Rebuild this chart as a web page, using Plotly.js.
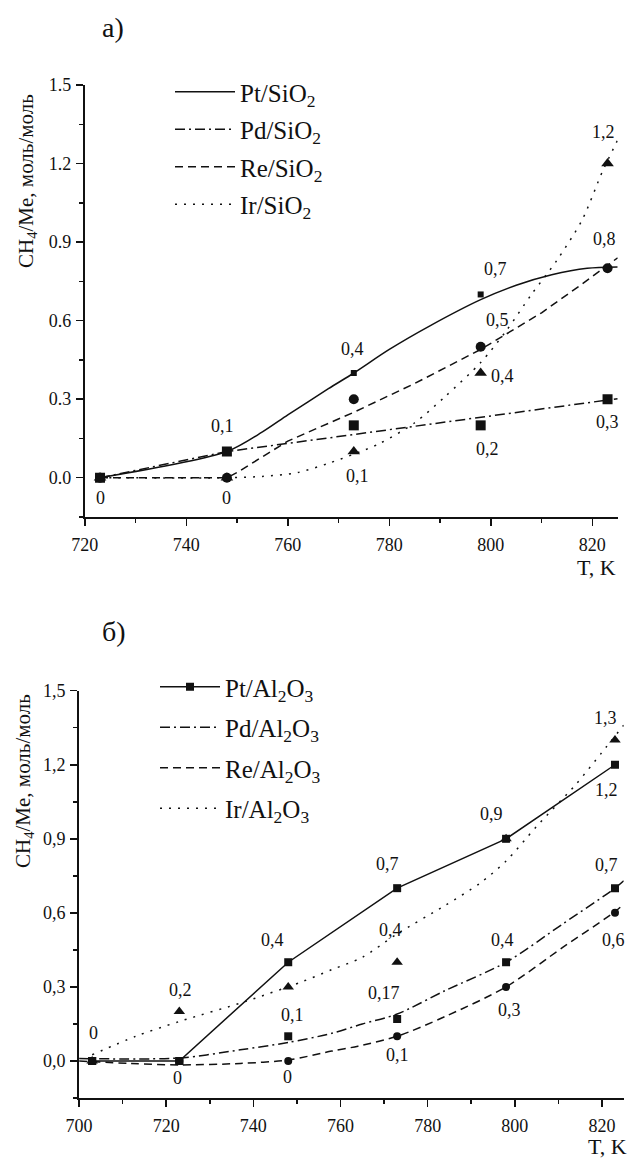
<!DOCTYPE html>
<html>
<head>
<meta charset="utf-8">
<script src="https://cdn.plot.ly/plotly-3.0.1.min.js"></script>
<style>html,body{margin:0;padding:0;background:#fff;}#chart{width:633px;height:1162px;}</style>
</head>
<body>
<div id="chart"></div>
<script>
// ---------- DATA: panel a) SiO2 ----------
const tempSi = [723, 748, 773, 798, 823];
const ptSi = [0, 0.1, 0.4, 0.7, 0.8];
const pdSi = [0, 0.1, 0.2, 0.2, 0.3];
const reSi = [0, 0, 0.3, 0.5, 0.8];
const irSi = [0, 0, 0.1, 0.4, 1.2];
// fitted curves as drawn in the figure
const ptSiFitT = [723, 748, 755, 760, 768, 773, 780, 788, 798, 805, 812, 819, 825];
const ptSiFitV = [0, 0.1, 0.175, 0.24, 0.34, 0.40, 0.49, 0.58, 0.68, 0.735, 0.775, 0.80, 0.805];
const pdSiFitT = [723, 748, 773, 798, 825];
const pdSiFitV = [0, 0.1, 0.165, 0.23, 0.302];
const reSiFitT = [723, 748, 750, 760, 773, 785, 798, 810, 818, 825];
const reSiFitV = [0, 0, 0.02, 0.14, 0.25, 0.36, 0.49, 0.63, 0.74, 0.84];
const irSiFitT = [723, 748, 755, 762, 768, 773, 778, 785, 791, 798, 803, 808, 813, 818, 822, 825];
const irSiFitV = [0, 0, 0.005, 0.02, 0.055, 0.09, 0.13, 0.21, 0.31, 0.44, 0.56, 0.70, 0.83, 0.985, 1.17, 1.29];
// point labels
const ptSiLabels = ['', '0,1', '0,4', '0,7', '0,8'];
const pdSiLabels = ['', '', '', '0,2', '0,3'];
const reSiLabels = ['0', '0', '', '0,5', ''];
const irSiLabels = ['', '', '0,1', '0,4', '1,2'];

// ---------- DATA: panel б) Al2O3 ----------
const tempAl = [703, 723, 748, 773, 798, 823];
const ptAl = [0, 0, 0.4, 0.7, 0.9, 1.2];
const pdAl = [0, 0, 0.1, 0.17, 0.4, 0.7];
const reAl = [0, 0, 0, 0.1, 0.3, 0.6];
const irAl = [0, 0.2, 0.3, 0.4, 0.9, 1.3];
const pdAlFitT = [700, 723, 737, 748, 758, 765, 773, 784, 798, 811, 823, 825];
const pdAlFitV = [0.01, 0.012, 0.045, 0.075, 0.112, 0.15, 0.19, 0.285, 0.40, 0.555, 0.70, 0.73];
const reAlFitT = [700, 712, 723, 737, 748, 758, 764, 773, 784, 798, 811, 823, 825];
const reAlFitV = [0, -0.01, -0.016, -0.01, 0.004, 0.04, 0.06, 0.1, 0.18, 0.30, 0.46, 0.605, 0.635];
const irAlFitT = [703, 713, 723, 738, 751, 758, 765, 773, 784, 792, 798, 805, 814, 820, 825];
const irAlFitV = [0.025, 0.1, 0.16, 0.24, 0.32, 0.37, 0.42, 0.515, 0.63, 0.72, 0.81, 0.95, 1.12, 1.25, 1.36];
const ptAlLabels = ['', '0', '0,4', '0,7', '0,9', '1,2'];
const pdAlLabels = ['', '', '0,1', '0,17', '0,4', '0,7'];
const reAlLabels = ['', '', '0', '0,1', '0,3', '0,6'];
const irAlLabels = ['0', '0,2', '', '0,4', '', '1,3'];

// ---------- tick labels & names ----------
const yTickVals = [0, 0.3, 0.6, 0.9, 1.2, 1.5];
const yTickTextSi = ['0.0', '0.3', '0.6', '0.9', '1.2', '1.5'];
const yTickTextAl = ['0,0', '0,3', '0,6', '0,9', '1,2', '1,5'];
const namesSi = ['Pt/SiO<sub>2</sub>', 'Pd/SiO<sub>2</sub>', 'Re/SiO<sub>2</sub>', 'Ir/SiO<sub>2</sub>'];
const namesAl = ['Pt/Al<sub>2</sub>O<sub>3</sub>', 'Pd/Al<sub>2</sub>O<sub>3</sub>', 'Re/Al<sub>2</sub>O<sub>3</sub>', 'Ir/Al<sub>2</sub>O<sub>3</sub>'];

// ---------- styles ----------
const FONT = '"Liberation Serif", "Times New Roman", serif';
const INK = '#111';
const DASH = '8px,5px';
const DOT = '2px,7px';
const DASHDOT = '10px,4px,2px,4px';

// label offsets (px) [dx, dy]
const offPtSi = [null, [-4, 26], [-1, 24], [15, 25], [-3, 29]];
const offPdSi = [null, null, null, [7, -24], [0, -23]];
const offReSi = [[0, -20], [0, -20], null, [17, 27], null];
const offIrSi = [null, null, [4, -24], [22, -3], [-4, 32]];
const offPtAl = [null, [-2, -17], [-16, 22], [-10, 24], [-15, 25], [-8, -25]];
const offPdAl = [null, null, [4, 21], [-13, 26], [-4, 22], [-8, 23]];
const offReAl = [null, null, [-1, -16], [0, -19], [3, -23], [-1, -27]];
const offIrAl = [[1, 28], [1, 22], null, [-7, 32], null, [-9, 22]];

function fitTrace(xs, ys, name, dash, shape, xa, ya, leg) {
  return {x: xs, y: ys, name: name, legendgroup: name, type: 'scatter', mode: 'lines', xaxis: xa, yaxis: ya,
    line: {color: INK, width: 1.5, dash: dash, shape: shape, smoothing: 0.8}, legend: leg,
    showlegend: true, hoverinfo: 'skip'};
}
function ptsTrace(xs, ys, symbol, size, xa, ya) {
  return {x: xs, y: ys, type: 'scatter', mode: 'markers', xaxis: xa, yaxis: ya,
    marker: {symbol: symbol, size: size, color: INK}, showlegend: false, hoverinfo: 'skip'};
}
function labelAnns(xs, ys, labels, offs, xa, ya) {
  const out = [];
  labels.forEach((t, i) => {
    if (!t) return;
    out.push({x: xs[i], y: ys[i], xref: xa, yref: ya, text: t, showarrow: false,
      xanchor: 'center', yanchor: 'middle',
      xshift: offs[i][0], yshift: offs[i][1], font: {family: FONT, size: 18, color: INK}});
  });
  return out;
}

const traces = [
  // panel a
  fitTrace(ptSiFitT, ptSiFitV, namesSi[0], 'solid', 'spline', 'x', 'y', 'legend'),
  fitTrace(pdSiFitT, pdSiFitV, namesSi[1], DASHDOT, 'linear', 'x', 'y', 'legend'),
  fitTrace(reSiFitT, reSiFitV, namesSi[2], DASH, 'linear', 'x', 'y', 'legend'),
  fitTrace(irSiFitT, irSiFitV, namesSi[3], DOT, 'spline', 'x', 'y', 'legend'),
  ptsTrace(tempSi, ptSi, 'square', 6, 'x', 'y'),
  ptsTrace(tempSi, pdSi, 'square', 10, 'x', 'y'),
  ptsTrace(tempSi, reSi, 'circle', 10, 'x', 'y'),
  ptsTrace(tempSi, irSi, 'triangle-up', 11, 'x', 'y'),
  // panel б
  {x: tempAl, y: ptAl, name: namesAl[0], legendgroup: namesAl[0], type: 'scatter', mode: 'lines+markers', xaxis: 'x2', yaxis: 'y2',
    line: {color: INK, width: 1.5}, marker: {symbol: 'square', size: 8, color: INK}, legend: 'legend2', hoverinfo: 'skip'},
  fitTrace(pdAlFitT, pdAlFitV, namesAl[1], DASHDOT, 'spline', 'x2', 'y2', 'legend2'),
  fitTrace(reAlFitT, reAlFitV, namesAl[2], DASH, 'spline', 'x2', 'y2', 'legend2'),
  fitTrace(irAlFitT, irAlFitV, namesAl[3], DOT, 'spline', 'x2', 'y2', 'legend2'),
  ptsTrace(tempAl, pdAl, 'square', 8, 'x2', 'y2'),
  ptsTrace(tempAl, reAl, 'circle', 8, 'x2', 'y2'),
  ptsTrace(tempAl, irAl, 'triangle-up', 10, 'x2', 'y2')
];

function xAxis(domain, range, anchor) {
  return {domain: domain, range: range, anchor: anchor, showline: true, linewidth: 2, linecolor: INK,
    ticks: 'outside', ticklen: 7, tickwidth: 1.5, tickcolor: INK, dtick: 20, tick0: 700,
    ticklabelstandoff: 3,
    minor: {dtick: 10, tick0: 700, ticks: 'outside', ticklen: 4, tickwidth: 1.5, tickcolor: INK},
    showgrid: false, zeroline: false, tickfont: {family: FONT, size: 18, color: INK}, fixedrange: true};
}
function yAxis(domain, ticktext, anchor) {
  return {domain: domain, range: [-0.15, 1.5], anchor: anchor, showline: true, linewidth: 2, linecolor: INK,
    ticks: 'outside', ticklen: 7, tickwidth: 1.5, tickcolor: INK, tickmode: 'array',
    tickvals: yTickVals, ticktext: ticktext, ticklabelstandoff: 1,
    minor: {dtick: 0.15, tick0: 0, ticks: 'outside', ticklen: 4, tickwidth: 1.5, tickcolor: INK},
    showgrid: false, zeroline: false, tickfont: {family: FONT, size: 18, color: INK}, fixedrange: true};
}

const W = 633, H = 1162;
const px = v => v / W;
const py = v => 1 - v / H;
function paperText(x, y, text, size, extra) {
  return Object.assign({xref: 'paper', yref: 'paper', x: px(x), y: py(y), text: text, showarrow: false,
    xanchor: 'center', yanchor: 'middle', font: {family: FONT, size: size, color: INK}}, extra || {});
}

const anns = [].concat(
  labelAnns(tempSi, ptSi, ptSiLabels, offPtSi, 'x', 'y'),
  labelAnns(tempSi, pdSi, pdSiLabels, offPdSi, 'x', 'y'),
  labelAnns(tempSi, reSi, reSiLabels, offReSi, 'x', 'y'),
  labelAnns(tempSi, irSi, irSiLabels, offIrSi, 'x', 'y'),
  labelAnns(tempAl, ptAl, ptAlLabels, offPtAl, 'x2', 'y2'),
  labelAnns(tempAl, pdAl, pdAlLabels, offPdAl, 'x2', 'y2'),
  labelAnns(tempAl, reAl, reAlLabels, offReAl, 'x2', 'y2'),
  labelAnns(tempAl, irAl, irAlLabels, offIrAl, 'x2', 'y2'),
  [
    paperText(113, 28, 'a)', 28),
    paperText(114, 631, 'б)', 28),
    paperText(618, 567, 'T, K', 22, {xanchor: 'right'}),
    paperText(629, 1146, 'T, K', 22, {xanchor: 'right'}),
    paperText(27, 181, 'CH<sub>4</sub>/Me, моль/моль', 21, {textangle: -90}),
    paperText(24, 781, 'CH<sub>4</sub>/Me, моль/моль', 21, {textangle: -90})
  ]
);

const layout = {
  width: W, height: H, margin: {l: 0, r: 0, t: 0, b: 0},
  paper_bgcolor: '#fff', plot_bgcolor: '#fff',
  font: {family: FONT, color: INK},
  xaxis: xAxis([px(84.8), px(617.7)], [720, 825], 'y'),
  yaxis: yAxis([py(517), py(85)], yTickTextSi, 'x'),
  xaxis2: xAxis([px(79.1), px(623.7)], [700, 825], 'y2'),
  yaxis2: yAxis([py(1098), py(690.7)], yTickTextAl, 'x2'),
  legend: {x: px(170), y: py(69), xanchor: 'left', yanchor: 'top', bgcolor: 'rgba(0,0,0,0)',
    font: {family: FONT, size: 25, color: INK}, itemwidth: 60, tracegroupgap: 2},
  legend2: {x: px(155), y: py(664), xanchor: 'left', yanchor: 'top', bgcolor: 'rgba(0,0,0,0)',
    font: {family: FONT, size: 25, color: INK}, itemwidth: 60, tracegroupgap: 5},
  annotations: anns,
  showlegend: true
};

Plotly.newPlot('chart', traces, layout, {displayModeBar: false, staticPlot: true});
</script>
</body>
</html>
